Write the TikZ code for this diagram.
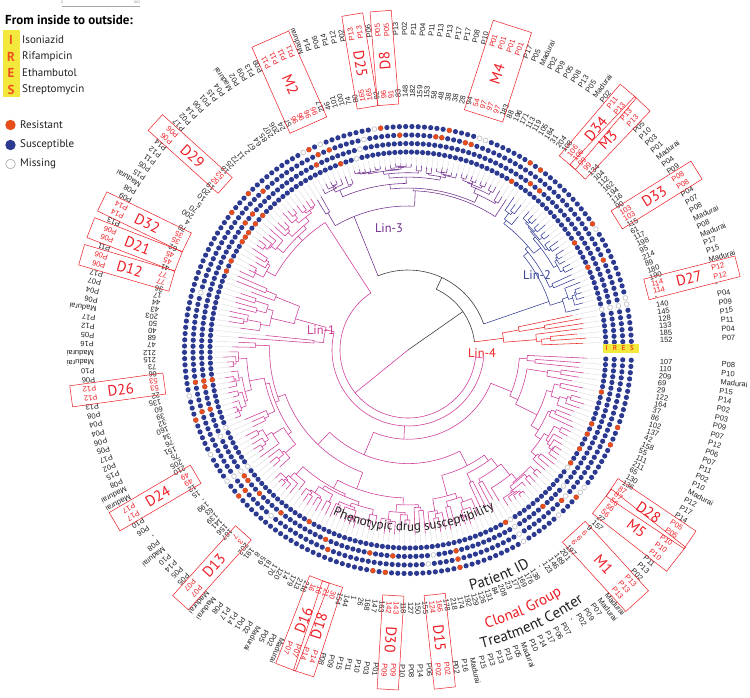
\documentclass[tikz,border=0pt]{standalone}
\usepackage{fontspec}
\setmainfont{PT Sans}
\newfontfamily\lblfont{Liberation Sans}
\usetikzlibrary{decorations.text}
\definecolor{linA}{RGB}{205,55,150}
\definecolor{linB}{RGB}{50,60,150}
\definecolor{linC}{RGB}{110,45,140}
\definecolor{linD}{RGB}{235,35,35}
\definecolor{dotred}{RGB}{232,78,27}
\definecolor{dotblue}{RGB}{43,57,144}
\definecolor{boxred}{RGB}{237,28,36}
\definecolor{iresyel}{RGB}{242,233,60}
\definecolor{iresred}{RGB}{240,80,30}
\definecolor{lk}{RGB}{35,31,32}
\colorlet{lr}{boxred}
\definecolor{rootcol}{RGB}{60,60,60}
\definecolor{leafgray}{RGB}{212,212,212}
\def\dA{1.607142857}
\def\aoff{0.6}
\def\rtip{186}
\def\treecol{linA}
\newcommand\Clade[5]{%
  \begingroup
  \pgfmathtruncatemacro\cLo{#1}%
  \pgfmathtruncatemacro\cHi{#2}%
  \pgfmathsetmacro\cRp{#3}%
  \pgfmathsetmacro\cA{#5}%
  \ifnum\cLo<\cHi\relax
    \pgfmathsetmacro\cR{#4}%
    \draw[tree] (\cA:\cRp) -- (\cA:\cR);
    \pgfmathtruncatemacro\cM{\cLo+1+floor(rnd*(\cHi-\cLo))}%
    \pgfmathtruncatemacro\cMm{\cM-1}%
    \pgfmathsetmacro\cAa{((\cLo+\cMm)/2+1)*\dA+\aoff}%
    \pgfmathsetmacro\cAb{((\cM+\cHi)/2+1)*\dA+\aoff}%
    \pgfmathsetmacro\cAmin{min(\cA,\cAa)}%
    \pgfmathsetmacro\cAmax{max(\cA,\cAb)}%
    \draw[tree] (\cAmin:\cR) arc[start angle=\cAmin, end angle=\cAmax, radius=\cR];
    \pgfmathsetmacro\cRa{\cR+(\rtip-\cR)*(0.08+0.3*rnd)}%
    \pgfmathsetmacro\cRb{\cR+(\rtip-\cR)*(0.08+0.3*rnd)}%
    \Clade{\cLo}{\cMm}{\cR}{\cRa}{\cAa}%
    \Clade{\cM}{\cHi}{\cR}{\cRb}{\cAb}%
  \else
    \pgfmathsetmacro\cR{\cRp+max(3,(\rtip-\cRp)*(0.45+0.55*rnd))}%
    \draw[tree] (\cA:\cRp) -- (\cA:\cR);
    \draw[leafline] (\cA:\cR) -- (\cA:193);
  \fi
  \endgroup}
\begin{document}
\begin{tikzpicture}[x=1pt,y=1pt,
  tree/.style={draw=\treecol, line width=0.55pt},
  leafline/.style={draw=leafgray, line width=0.3pt},
  rootline/.style={draw=rootcol, line width=0.6pt},
  lbl/.style={font=\lblfont\fontsize{7.5}{8}\selectfont, inner sep=0pt, anchor=west},
  grp/.style={font=\fontsize{15}{15}\selectfont, text=boxred, inner sep=0pt},
  grpbox/.style={draw=boxred, line width=0.5pt},
  linlbl/.style={font=\fontsize{12.5}{13}\selectfont, inner sep=0pt},
  legtxt/.style={font=\fontsize{11}{12}\selectfont, text=lk, inner sep=0pt, anchor=west},
  legletter/.style={font=\bfseries\fontsize{13}{13}\selectfont, text=iresred, inner sep=0pt},
  ireslet/.style={font=\bfseries\fontsize{7}{7}\selectfont, text=iresred, inner sep=0pt},
  susdot/.style={fill=dotblue},
  resdot/.style={fill=dotred},
  missdot/.style={fill=white, draw=gray!55, line width=0.45pt}]
\useasboundingbox (-408,-347) rectangle (342,350);
\fill[white] (-408,-347) rectangle (342,350);
\pgfmathsetseed{11}
% ---------- tree ----------
\draw[rootline] (0,0) -- (35:67);
\draw[draw=linA, line width=0.55pt] (0,0) -- (219:68);
\draw[rootline] (7:67) arc[start angle=7, end angle=65, radius=67];
\draw[rootline] (65:67) -- (65:80);
\draw[rootline] (19:80) arc[start angle=19, end angle=112, radius=80];
\draw[draw=linA, line width=0.55pt] (123:68) arc[start angle=123, end angle=354, radius=68];
\def\treecol{linD}\Clade{0}{6}{67}{96}{7}
\def\treecol{linB}\Clade{7}{33}{80}{149}{19}
\def\treecol{linC}\Clade{34}{74}{80}{144}{112}
\def\treecol{linA}\Clade{75}{95}{68}{152}{123}
\def\treecol{linA}\Clade{96}{221}{68}{76}{354}
\node[linlbl, text=linC] (lin3) at (-19,122) {Lin-3};
\node[linlbl, text=linA] (lin1) at (-87,20) {Lin-1};
\node[linlbl, text=linB] (lin2) at (129,75) {Lin-2};
\node[linlbl, text=linD] (lin4) at (74,-3) {Lin-4};
% ---------- dots ----------
\foreach \i in {0,...,221}{%
  \pgfmathsetmacro\ang{(\i+1)*\dA+\aoff}
  \foreach \rr in {198,206.5,215,223.5}{\fill[susdot] (\ang:\rr) circle (2.6);}
}
\foreach \i in {14,19,35,67,84,86,88,89,90,94,96,116,148,185,201,204,207,209,215}{\fill[resdot] ({(\i+1)*\dA+\aoff}:198) circle (2.6);}
\foreach \i in {30,32,71,85,87,116,117,121,134,135,138,143,152,160,164,175,192}{\fill[resdot] ({(\i+1)*\dA+\aoff}:206.5) circle (2.6);}
\foreach \i in {14,44,45,49,50,56,68,70,81,116,121,136,153,175,195}{\fill[resdot] ({(\i+1)*\dA+\aoff}:215) circle (2.6);}
\foreach \i in {20,32,34,48,59,71,83,87,122,136,161,163,175,197,207,210}{\fill[resdot] ({(\i+1)*\dA+\aoff}:223.5) circle (2.6);}
\foreach \i in {6,64,125,133,186,200}{\fill[white] ({(\i+1)*\dA+\aoff}:198) circle (2.9); \filldraw[missdot] ({(\i+1)*\dA+\aoff}:198) circle (2.3);}
\foreach \i in {6,63,126,133,171,186,197}{\fill[white] ({(\i+1)*\dA+\aoff}:206.5) circle (2.9); \filldraw[missdot] ({(\i+1)*\dA+\aoff}:206.5) circle (2.3);}
\foreach \i in {6,62,101,133,142,170,186,196}{\fill[white] ({(\i+1)*\dA+\aoff}:215) circle (2.9); \filldraw[missdot] ({(\i+1)*\dA+\aoff}:215) circle (2.3);}
\foreach \i in {6,7,19,42,43,60,69,72,118,128,133,186,193,198,199}{\fill[white] ({(\i+1)*\dA+\aoff}:223.5) circle (2.9); \filldraw[missdot] ({(\i+1)*\dA+\aoff}:223.5) circle (2.3);}
% IRES marker
\fill[iresyel] (195,-3) rectangle (231,6);
\node[ireslet] (iresI) at (198.5,1.5) {I};
\node[ireslet] (iresR) at (207,1.5) {R};
\node[ireslet] (iresE) at (215.5,1.5) {E};
\node[ireslet] (iresS) at (224,1.5) {S};
% ---------- labels ----------
\foreach \i/\pa/\tc/\cc in {0/152/P07/lk, 1/185/P04/lk, 2/133/P11/lk, 3/128/P15/lk, 4/145/P09/lk, 5/140/P04/lk, 6/-/-/lk, 7/114/P12/lr, 8/114/P12/lr, 9/190/Madurai/lk, 10/180/P15/lk, 11/89/P17/lk, 12/214/Madurai/lk, 13/95/P08/lk, 14/198/Madurai/lk, 15/117/P08/lk, 16/61/P07/lk, 17/115/P04/lk, 18/103/P08/lr, 19/103/P08/lr, 20/90/P09/lk, 21/116/P04/lk, 22/194/Madurai/lk, 23/162/P01/lk, 24/112/P03/lk, 25/104/P10/lk, 26/134/P05/lk, 27/99/P13/lr, 28/99/P13/lr, 29/106/P13/lr, 30/106/P11/lr, 31/108/P02/lk, 32/204/Madurai/lk, 33/31/P05/lk, 34/184/P13/lk, 35/105/P08/lk, 36/119/P05/lk, 37/113/P09/lk, 38/171/P02/lk, 39/196/Madurai/lk, 40/88/P05/lk, 41/183/P17/lk, 42/97/P01/lr, 43/97/P01/lr, 44/97/P01/lr, 45/54/P01/lr, 46/94/P10/lk, 47/28/P08/lk, 48/38/P17/lk, 49/38/P17/lk, 50/48/P13/lk, 51/58/P13/lk, 52/153/P11/lk, 53/159/P04/lk, 54/182/P11/lk, 55/148/P02/lk, 56/83/P13/lk, 57/91/P05/lr, 58/96/P05/lr, 59/92/P06/lk, 60/165/P13/lr, 61/165/P13/lr, 62/80/P02/lk, 63/74/P12/lk, 64/100/P14/lk, 65/101/P06/lk, 66/46/P14/lk, 67/217/Madurai/lk, 68/96/P11/lr, 69/96/P11/lr, 70/96/P11/lr, 71/96/P11/lr, 72/57/P09/lk, 73/24/P13/lk, 74/206/P09/lk, 75/207/P02/lk, 76/85/Madurai/lk, 77/64/P04/lk, 78/67/P15/lk, 79/2/P01/lk, 80/11/P06/lk, 81/72/P14/lk, 82/25/P02/lk, 83/18/P17/lk, 84/52/P06/lr, 85/52/P06/lr, 86/19/P14/lk, 87/20/P12/lk, 88/10/P11/lk, 89/5/P05/lk, 90/70/P15/lk, 91/200/Madurai/lk, 92/4/P08/lk, 93/78/P09/lk, 94/35/P14/lr, 95/35/P14/lr, 96/62/P13/lk, 97/45/P06/lr, 98/45/P06/lr, 99/41/P11/lk, 100/77/P06/lr, 101/77/P06/lr, 102/36/P17/lk, 103/17/P07/lk, 104/44/P04/lk, 105/43/P06/lk, 106/203/Madurai/lk, 107/50/P17/lk, 108/40/P12/lk, 109/68/P05/lk, 110/47/P16/lk, 111/212/Madurai/lk, 112/215/Madurai/lk, 113/73/P10/lk, 114/66/P06/lk, 115/53/P12/lr, 116/53/P12/lr, 117/22/P13/lk, 118/135/P08/lk, 119/60/P04/lk, 120/39/P04/lk, 121/32/P06/lk, 122/160/P05/lk, 123/34/P17/lk, 124/76/P02/lk, 125/151/P15/lk, 126/75/P08/lk, 127/205/Madurai/lk, 128/210/Madurai/lk, 129/49/P17/lr, 130/49/P17/lr, 131/12/P10/lk, 132/15/P06/lk, 133/-/-/lk, 134/199/P08/lk, 135/63/Madurai/lk, 136/139/P10/lk, 137/141/P14/lk, 138/156/P05/lk, 139/167/P05/lk, 140/7/P07/lr, 141/3/P07/lr, 142/202/Madurai/lk, 143/191/Madurai/lk, 144/8/P08/lk, 145/59/P17/lk, 146/81/P14/lk, 147/170/P01/lk, 148/120/P02/lk, 149/14/Madurai/lk, 150/179/P05/lk, 151/213/P02/lk, 152/216/Madurai/lk, 153/16/P07/lr, 154/16/P07/lr, 155/21/P14/lr, 156/30/P14/lr, 157/154/P08/lk, 158/144/P09/lk, 159/1/P15/lk, 160/26/P11/lk, 161/168/P10/lk, 162/147/P03/lk, 163/163/P01/lk, 164/142/P09/lr, 165/143/P09/lr, 166/118/P10/lk, 167/127/P08/lk, 168/150/P14/lk, 169/155/P06/lk, 170/124/P02/lr, 171/166/P02/lr, 172/178/P02/lk, 173/218/P16/lk, 174/174/Madurai/lk, 175/192/P15/lk, 176/129/P13/lk, 177/126/P13/lk, 178/131/P13/lk, 179/84/P05/lk, 180/208/Madurai/lk, 181/23/P10/lk, 182/177/P14/lk, 183/169/P17/lk, 184/176/P06/lk, 185/138/P07/lk, 186/-/-/lk, 187/123/P02/lk, 188/146/P09/lk, 189/189/P07/lk, 190/201/Madurai/lk, 191/197/Madurai/lk, 192/6/P13/lr, 193/6/P13/lr, 194/6/P13/lr, 195/9/P02/lk, 196/157/P13/lk, 197/27/P11/lk, 198/56/P10/lr, 199/56/P10/lr, 200/56/P10/lr, 201/87/P05/lr, 202/87/P05/lr, 203/136/P14/lk, 204/130/P17/lk, 205/65/P12/lk, 206/211/Madurai/lk, 207/111/P10/lk, 208/55/P02/lk, 209/158/P11/lk, 210/42/P07/lk, 211/137/P06/lk, 212/102/P12/lk, 213/86/P07/lk, 214/37/P09/lk, 215/164/P03/lk, 216/122/P02/lk, 217/29/P14/lk, 218/69/P15/lk, 219/209/Madurai/lk, 220/110/P10/lk, 221/107/P08/lk}{%
  \pgfmathsetmacro\ang{(\i+1)*\dA+\aoff}
  \node[lbl, text=\cc, rotate=\ang] (pid\i) at (\ang:252) {\pa};
  \node[lbl, text=\cc, rotate=\ang] (tc\i) at (\ang:314) {\tc};
}
% ---------- clonal group boxes ----------
\foreach \lo/\hi/\nm in {7/8/D27, 18/19/D33, 27/28/M3, 29/30/D34, 42/45/M4, 57/58/D8, 60/61/D25, 68/71/M2, 84/85/D29, 94/95/D32, 97/98/D21, 100/101/D12, 115/116/D26, 129/130/D24, 140/141/D13, 153/154/D16, 155/156/D18, 164/165/D30, 170/171/D15, 192/194/M1, 198/200/M5, 201/202/D28}{%
  \pgfmathsetmacro\ac{((\lo+\hi)/2+1)*\dA+\aoff}
  \pgfmathsetmacro\hw{((\hi-\lo+1)/2+0.12)*\dA*3.14159/180*338}
  \pgfmathsetmacro\rot{cos(\ac)<-0.1 ? \ac+180 : \ac}
  \draw[grpbox, rotate=\ac] (246,-\hw) rectangle (340,\hw);
  \node[grp, rotate=\rot] (g\nm) at (\ac:290) {\nm};
}
% ---------- curved titles ----------
\path[decorate, decoration={text along path, text align=center,
  text={|\fontsize{13}{13}\selectfont\color{lk}|Phenotypic drug susceptibility}}]
  (232:181) arc[start angle=232, end angle=312, radius=181];
\path[decorate, decoration={text along path, text align=center,
  text={|\fontsize{15}{15}\selectfont\color{lk}|Patient ID}}]
  (262:249) arc[start angle=262, end angle=322, radius=249];
\path[decorate, decoration={text along path, text align=center,
  text={|\fontsize{15}{15}\selectfont\color{boxred}|Clonal Group}}]
  (264:289) arc[start angle=264, end angle=324, radius=289];
\path[decorate, decoration={text along path, text align=center,
  text={|\fontsize{15}{15}\selectfont\color{lk}|Treatment Center}}]
  (264.4:307) arc[start angle=264.4, end angle=324.4, radius=307];
% ---------- legend ----------
\draw[gray!70, line width=0.4pt] (-346,344) -- (-268,344);
\node[font=\fontsize{3.5}{4}\selectfont, text=gray, inner sep=0pt] (sc0) at (-346,347.5) {0};
\node[font=\fontsize{3.5}{4}\selectfont, text=gray, inner sep=0pt] (sc1) at (-271,347.5) {0.02};
\node[font=\bfseries\fontsize{13}{14}\selectfont, text=black, inner sep=0pt, anchor=base west] (legtitle) at (-403,325) {From inside to outside:};
\fill[iresyel] (-405,320) rectangle (-388,253);
\node[legletter] (lgI) at (-397,310) {I};
\node[legletter] (lgR) at (-397,293) {R};
\node[legletter] (lgE) at (-397,277) {E};
\node[legletter] (lgS) at (-397,260) {S};
\node[legtxt] (lgIt) at (-386,310) {Isoniazid};
\node[legtxt] (lgRt) at (-386,293) {Rifampicin};
\node[legtxt] (lgEt) at (-386,277) {Ethambutol};
\node[legtxt] (lgSt) at (-386,260) {Streptomycin};
\fill[resdot] (-397.5,225) circle (5.2);
\node[legtxt] (lgres) at (-388,225) {Resistant};
\fill[susdot] (-397.5,205) circle (5.2);
\node[legtxt] (lgsus) at (-388,205) {Susceptible};
\filldraw[missdot, line width=0.8pt] (-397.5,186) circle (4.8);
\node[legtxt] (lgmis) at (-388,186) {Missing};
\end{tikzpicture}
\end{document}
